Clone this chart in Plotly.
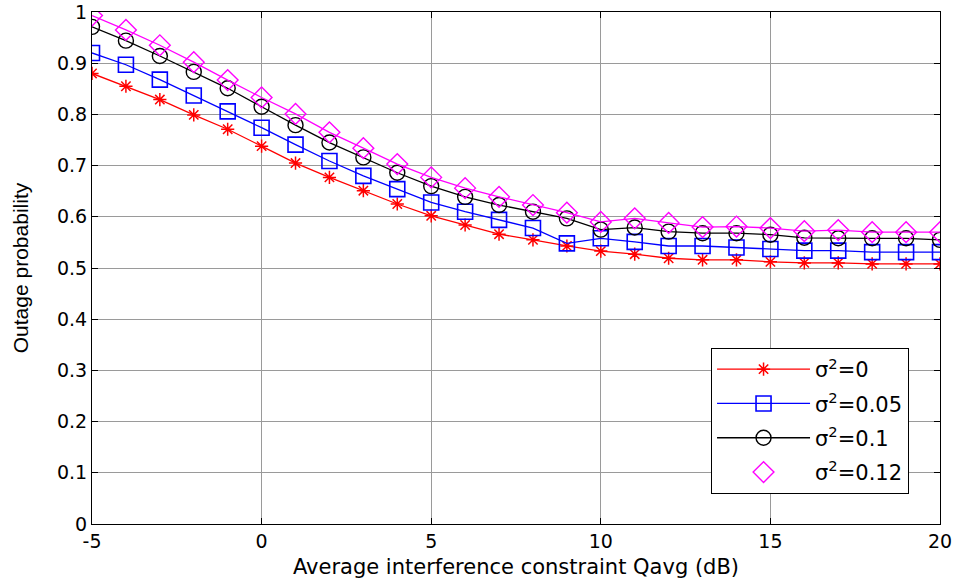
import plotly.graph_objects as go

q_db = list(range(-5, 21))

sigma_0 = [0.880, 0.855, 0.829, 0.799, 0.771, 0.738, 0.705, 0.677, 0.651, 0.625,
           0.602, 0.584, 0.566, 0.555, 0.543, 0.533, 0.527, 0.519, 0.516, 0.516,
           0.512, 0.510, 0.510, 0.508, 0.508, 0.508]
sigma_005 = [0.920, 0.897, 0.868, 0.837, 0.806, 0.774, 0.741, 0.709, 0.680, 0.654,
             0.628, 0.610, 0.594, 0.578, 0.548, 0.558, 0.551, 0.543, 0.543, 0.540,
             0.537, 0.534, 0.534, 0.531, 0.531, 0.531]
sigma_01 = [0.971, 0.944, 0.914, 0.883, 0.851, 0.815, 0.779, 0.745, 0.716, 0.686,
            0.660, 0.639, 0.623, 0.610, 0.597, 0.575, 0.579, 0.571, 0.568, 0.568,
            0.565, 0.559, 0.558, 0.558, 0.558, 0.555]
sigma_012 = [0.993, 0.965, 0.935, 0.902, 0.867, 0.833, 0.801, 0.765, 0.734, 0.703,
             0.677, 0.656, 0.639, 0.623, 0.608, 0.590, 0.597, 0.588, 0.580, 0.581,
             0.578, 0.572, 0.574, 0.570, 0.570, 0.570]

names = ["σ<sup>2</sup>=0", "σ<sup>2</sup>=0.05", "σ<sup>2</sup>=0.1", "σ<sup>2</sup>=0.12"]

WIDE = "DejaVu Sans, Verdana, sans-serif"

fig = go.Figure()
fig.add_trace(go.Scatter(x=q_db, y=sigma_0, mode="lines+markers", name=names[0],
                         legendgroup="a",
                         line=dict(color="#ff0000", width=1.3),
                         marker=dict(symbol="asterisk-open", size=11, color="#ff0000",
                                     line=dict(color="#ff0000", width=1.5))))
fig.add_trace(go.Scatter(x=q_db, y=sigma_005, mode="lines+markers", name=names[1],
                         legendgroup="b",
                         line=dict(color="#0000ff", width=1.3),
                         marker=dict(symbol="square-open", size=15, color="#0000ff",
                                     line=dict(color="#0000ff", width=1.6))))
fig.add_trace(go.Scatter(x=q_db, y=sigma_01, mode="lines+markers", name=names[2],
                         legendgroup="c",
                         line=dict(color="#000000", width=1.3),
                         marker=dict(symbol="circle-open", size=15, color="#000000",
                                     line=dict(color="#000000", width=1.4))))
fig.add_trace(go.Scatter(x=q_db, y=sigma_012, mode="lines", showlegend=False,
                         legendgroup="d",
                         line=dict(color="#ff00ff", width=1.3), hoverinfo="skip"))
fig.add_trace(go.Scatter(x=q_db, y=sigma_012, mode="markers", name=names[3],
                         legendgroup="d",
                         marker=dict(symbol="diamond-open", size=16, color="#ff00ff",
                                     line=dict(color="#ff00ff", width=1.4))))

axis_common = dict(
    showline=True, linecolor="black", linewidth=1, mirror="ticks",
    ticks="inside", ticklen=6, tickcolor="black",
    showgrid=True, gridcolor="#9a9a9a", gridwidth=1,
    zeroline=False, automargin=False,
    tickfont=dict(family=WIDE, size=19, color="black"),
)

fig.update_xaxes(range=[-5, 20], tickvals=[-5, 0, 5, 10, 15, 20],
                 ticktext=["-5", "0", "5", "10", "15", "20"],
                 title=dict(text="Average interference constraint Qavg (dB)",
                            font=dict(family=WIDE, size=21, color="black"),
                            standoff=8),
                 **axis_common)
fig.update_yaxes(range=[0, 1], tickvals=[i / 10 for i in range(11)],
                 ticktext=["0", "0.1", "0.2", "0.3", "0.4", "0.5", "0.6", "0.7", "0.8", "0.9", "1"],
                 title=dict(text="Outage probability",
                            font=dict(family="Liberation Sans, Arial, sans-serif", size=21, color="black"),
                            standoff=22),
                 **axis_common)

fig.update_layout(
    width=958, height=584,
    margin=dict(l=92, r=18, t=12, b=60),
    paper_bgcolor="white", plot_bgcolor="white",
    showlegend=True,
    legend=dict(x=0.73, xanchor="left", y=0.0586, yanchor="bottom",
                bgcolor="white", bordercolor="black", borderwidth=1,
                font=dict(family=WIDE, size=21, color="black"),
                tracegroupgap=4, itemwidth=93),
)

fig.write_html("out.html")
